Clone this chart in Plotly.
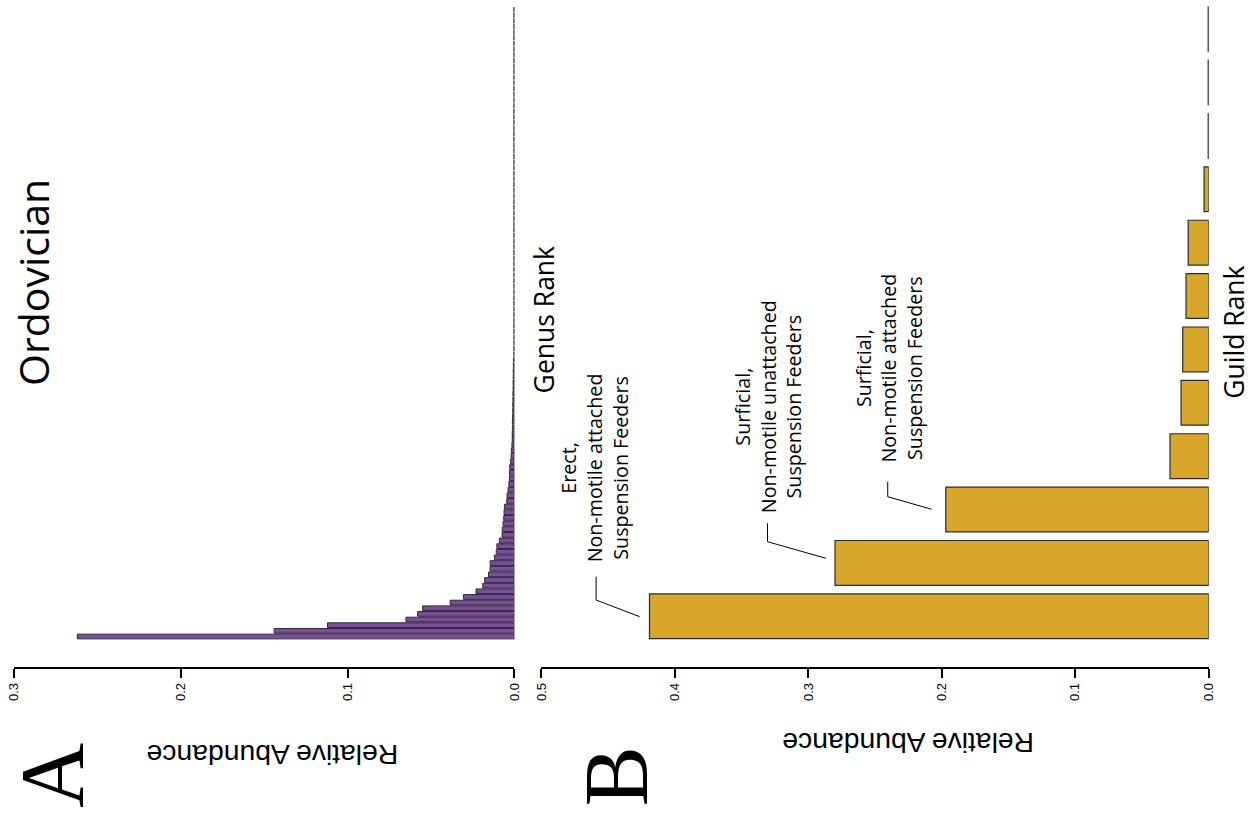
import plotly.graph_objects as go

W, H = 1254, 819

# Panel A: relative abundance of each Ordovician genus, rank 1 at the bottom
genus_abundance = [
    0.262, 0.144, 0.112, 0.065, 0.058, 0.055, 0.0385, 0.0305, 0.023, 0.019,
    0.0178, 0.0155, 0.0146, 0.0145, 0.012, 0.0109, 0.0105, 0.009, 0.0074, 0.0073,
    0.0068, 0.0064, 0.0062, 0.006, 0.0046, 0.0044, 0.0038, 0.0033, 0.003, 0.0029,
    0.0028, 0.0023, 0.002, 0.0018, 0.0015, 0.0013, 0.0013, 0.0012, 0.0012, 0.0011,
    0.001, 0.001, 0.0009, 0.0009, 0.0008, 0.0008, 0.0007, 0.0007, 0.0006, 0.0005,
    0.0003, 0.0003, 0.0003, 0.0003, 0.0003, 0.0003, 0.0003, 0.0003, 0.0003, 0.0003,
    0.0003, 0.0003, 0.0003, 0.0003, 0.0003, 0.0003, 0.0003, 0.0003, 0.0003, 0.0003,
    0.0003, 0.0003, 0.0003, 0.0003, 0.0003, 0.0003, 0.0003, 0.0003, 0.0003, 0.0003,
    0.0003, 0.0003, 0.0003, 0.0003, 0.0003, 0.0003, 0.0003, 0.0003, 0.0003, 0.0003,
    0.0003, 0.0003, 0.0003, 0.0003, 0.0003, 0.0003, 0.0003, 0.0003, 0.0003, 0.0003,
    0.0003, 0.0003, 0.0003, 0.0003, 0.0003, 0.0003, 0.0003, 0.0003, 0.0003, 0.0003,
    0.0003, 0.0003,
]
genus_rank = list(range(len(genus_abundance)))

# Panel B: relative abundance of each ecological guild, rank 1 at the bottom
guild_abundance = [0.419, 0.280, 0.197, 0.029, 0.0207, 0.0195, 0.017, 0.0154,
                   0.0035, 0.0004, 0.0004, 0.0004]
guild_rank = list(range(len(guild_abundance)))

# Names of the three dominant guilds
guild_names = [
    "Erect,<br>Non-motile attached<br>Suspension Feeders",
    "Surficial,<br>Non-motile unattached<br>Suspension Feeders",
    "Surficial,<br>Non-motile attached<br>Suspension Feeders",
]

ticks_a = [0.0, 0.1, 0.2, 0.3]
ticks_b = [0.0, 0.1, 0.2, 0.3, 0.4, 0.5]

PURPLE = "#7a4da0"
GOLD = "#d8a62a"
EDGE = "#2b2b2b"

# The page shows the figure a little narrower and offset to the right;
# horizontal positions are converted with that mapping.
X_SCALE, X_SHIFT = 0.989, 7.1


def px(x):
    return (x - X_SHIFT) / X_SCALE / W


def py(y):
    return 1 - y / H


fig = go.Figure()
fig.add_trace(go.Bar(
    x=genus_abundance, y=genus_rank, orientation="h",
    xaxis="x", yaxis="y",
    marker=dict(color=PURPLE, line=dict(color=EDGE, width=1)),
    hoverinfo="skip",
))
fig.add_trace(go.Bar(
    x=guild_abundance, y=guild_rank, orientation="h",
    xaxis="x2", yaxis="y2",
    marker=dict(color=GOLD, line=dict(color=EDGE, width=1.2)),
    hoverinfo="skip",
))

axis_common = dict(
    showline=True, linecolor="black", linewidth=1.5,
    ticks="outside", ticklen=9, tickwidth=1.5, tickcolor="black",
    tickangle=-90, showgrid=False, zeroline=False,
    tickfont=dict(family="Liberation Sans", size=13, color="black"),
)

fig.update_layout(
    width=W, height=H,
    margin=dict(l=0, r=0, t=0, b=0),
    paper_bgcolor="white", plot_bgcolor="white",
    showlegend=False, bargap=0.16,
    xaxis=dict(domain=[px(13), px(514)], range=[0.3, 0], anchor="y",
               tickvals=ticks_a, ticktext=[f"{v:.1f}" for v in ticks_a],
               **axis_common),
    yaxis=dict(domain=[py(667), py(6.7)], range=[-5.4, len(genus_abundance) - 0.5],
               visible=False, anchor="x"),
    xaxis2=dict(domain=[px(541), px(1209)], range=[0.5, 0], anchor="y2",
                tickvals=ticks_b, ticktext=[f"{v:.1f}" for v in ticks_b],
                **axis_common),
    yaxis2=dict(domain=[py(667), py(2.5)], range=[-0.95, len(guild_abundance) - 0.5],
                visible=False, anchor="x2"),
)

annotations = []


def label(text, x, y, size, family="Open Sans", angle=-90):
    annotations.append(dict(
        text=text, x=px(x), y=py(y), xref="paper", yref="paper",
        showarrow=False, textangle=angle, xanchor="center", yanchor="middle",
        font=dict(family=family, size=size, color="black"),
    ))


label("Ordovician", 32, 282, 41)
label("Genus Rank", 544, 320, 26.5)
label("Guild Rank", 1234, 332, 26.5)
label("Relative Abundance", 272, 755, 28.3, family="Liberation Sans", angle=180)
label("Relative Abundance", 908, 743, 28.3, family="Liberation Sans", angle=180)
label("A", 51, 775, 90, family="Liberation Serif")
label("B", 616, 776, 90, family="Liberation Serif")

# guild names and their leader lines (x in abundance, y in rank units of panel B)
name_pos = [(594, 468), (768, 407), (888.5, 368)]
leaders = [
    [(0.459, 0.742), (0.459, 0.305), (0.4264, -0.007)],
    [(0.3306, 1.743), (0.3306, 1.398), (0.2869, 1.087)],
    [(0.2405, 2.522), (0.2405, 2.241), (0.2076, 2.005)],
]
shapes = []
for name, (cx, cy), pts in zip(guild_names, name_pos, leaders):
    label(name, cx, cy, 19.7)
    path = "M " + " L ".join(f"{x},{y}" for x, y in pts)
    shapes.append(dict(type="path", path=path, xref="x2", yref="y2",
                       line=dict(color="black", width=1)))

fig.update_layout(annotations=annotations, shapes=shapes)

fig.write_html("out.html")
